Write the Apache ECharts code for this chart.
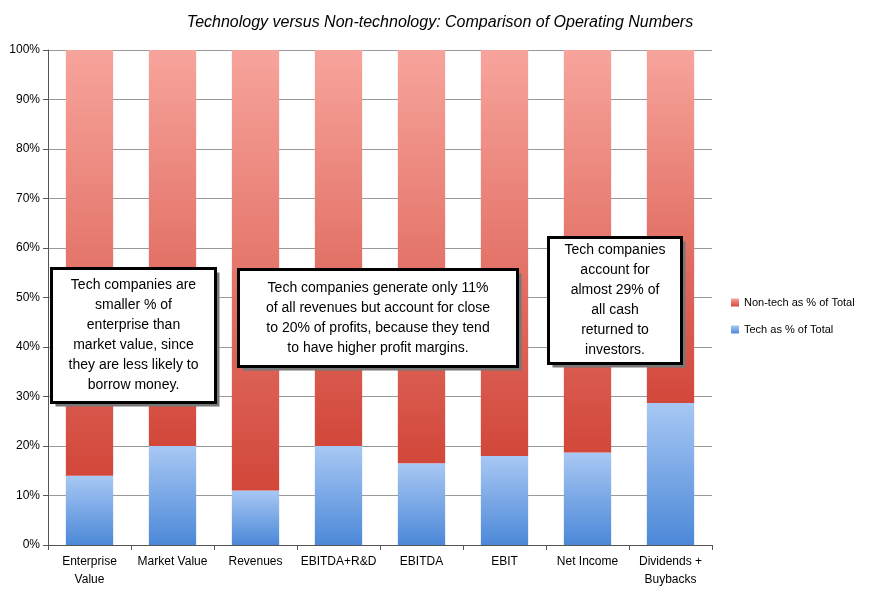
<!DOCTYPE html><html><head><meta charset="utf-8"><script src="https://cdn.jsdelivr.net/npm/echarts@6/dist/echarts.min.js"></script>
<style>html,body{margin:0;background:#fff}#c{width:880px;height:591px}</style></head><body><div id="c"></div><script>
const categories=['Enterprise\nValue','Market Value','Revenues','EBITDA+R&D','EBITDA','EBIT','Net Income','Dividends +\nBuybacks'];
const techPct=[14,20,11,20,16.5,18,18.7,28.7];
const nonTechPct=techPct.map(v=>+(100-v).toFixed(1));
const ticks=[0,10,20,30,40,50,60,70,80,90,100];
const G=echarts.graphic;
const chart=echarts.init(document.getElementById('c'));
const box=(l,t,w,h,txt)=>({type:'group',left:l,top:t,z:100,children:[
 {type:'rect',z:100,shape:{x:4,y:4,width:w,height:h},style:{fill:'#777'}},
 {type:'rect',z:101,shape:{x:0,y:0,width:w,height:h},style:{fill:'#fff',stroke:'#000',lineWidth:3}},
 {type:'text',z:102,x:w/2,y:h/2,style:{text:txt,fill:'#000',font:'14px "Liberation Sans",Arial',align:'center',verticalAlign:'middle',lineHeight:20}}]});
chart.setOption({
 animation:false,
 title:{text:'Technology versus Non-technology: Comparison of Operating Numbers',left:435,textAlign:'center',top:10,textStyle:{fontStyle:'italic',fontWeight:'normal',fontSize:16,color:'#000',fontFamily:'"Liberation Sans",Arial'}},
 grid:{left:48,right:168,top:50,bottom:46},
 legend:{orient:'vertical',left:726,top:292,icon:'rect',itemWidth:8,itemHeight:8,itemGap:16,textStyle:{fontSize:11,color:'#000',fontFamily:'"Liberation Sans",Arial'},data:['Non-tech as % of Total','Tech as % of Total']},
 xAxis:{type:'category',data:categories,axisTick:{show:true,lineStyle:{color:'#555'}},axisLine:{lineStyle:{color:'#555'}},axisLabel:{color:'#000',fontSize:12,lineHeight:18,interval:0,fontFamily:'"Liberation Sans",Arial'}},
 yAxis:{type:'value',min:0,max:100,interval:10,axisLabel:{formatter:'{value}%',color:'#000',fontSize:12,fontFamily:'"Liberation Sans",Arial'},axisLine:{show:true,lineStyle:{color:'#555'}},axisTick:{show:true,lineStyle:{color:'#555'}},splitLine:{lineStyle:{color:'#999'}}},
 series:[
  {name:'Tech as % of Total',type:'bar',stack:'s',barWidth:'57%',data:techPct,itemStyle:{color:new G.LinearGradient(0,0,0,1,[{offset:0,color:'#a8c8f4'},{offset:1,color:'#4c88d8'}])}},
  {name:'Non-tech as % of Total',type:'bar',stack:'s',data:nonTechPct,itemStyle:{color:new G.LinearGradient(0,0,0,1,[{offset:0,color:'#f7a49c'},{offset:1,color:'#d2473a'}])}}
 ],
 graphic:[
  box(50,267,164,134,'Tech companies are\nsmaller % of\nenterprise than\nmarket value, since\nthey are less likely to\nborrow money.'),
  box(237,268,279,97,'Tech companies generate only 11%\nof all revenues but account for close\nto 20% of profits, because they tend\nto have higher profit margins.'),
  box(547,236,133,126,'Tech companies\naccount for\nalmost 29% of\nall cash\nreturned to\ninvestors.')
 ]
});
</script></body></html>
